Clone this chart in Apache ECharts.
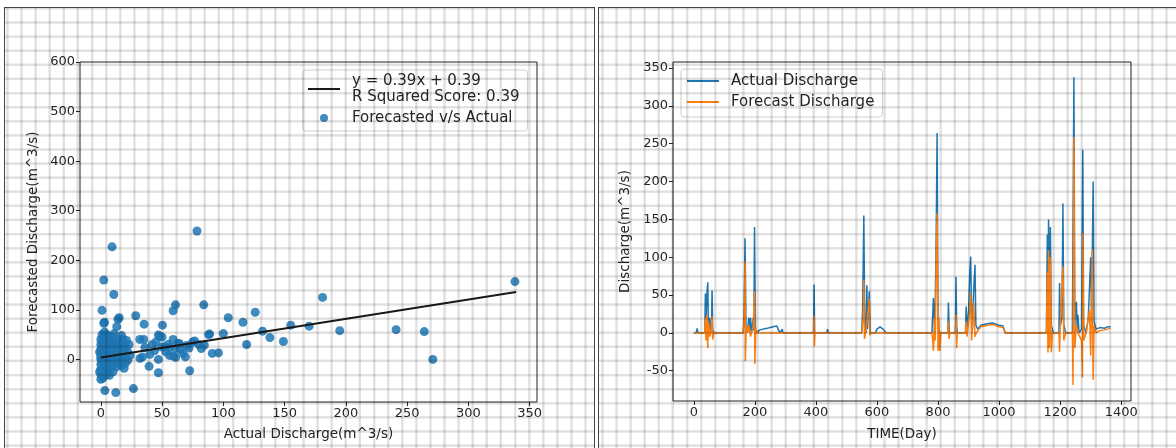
<!DOCTYPE html>
<html>
<head>
<meta charset="utf-8">
<script src="https://cdn.jsdelivr.net/npm/echarts@6/dist/echarts.min.js"></script>
<style>
  html, body { margin: 0; padding: 0; background: #fff; }
  #wrap { position: relative; width: 1176px; height: 448px; overflow: hidden; }
  #chart { position: absolute; left: 0; top: 0; width: 1176px; height: 448px; }
  .panel {
    position: absolute; top: 7px; height: 460px;
    border-top: 1.5px solid #444; border-left: 1.5px solid #444;
    pointer-events: none;
    background-image:
      repeating-linear-gradient(to right, rgba(0,0,0,0.05) 0, rgba(0,0,0,0.12) 1px, rgba(0,0,0,0.12) 2px, rgba(0,0,0,0.04) 3px, transparent 3px, transparent 14.1px),
      repeating-linear-gradient(to bottom, rgba(0,0,0,0.05) 0, rgba(0,0,0,0.12) 1px, rgba(0,0,0,0.12) 2px, rgba(0,0,0,0.04) 3px, transparent 3px, transparent 14.1px);
  }
  #p1 { left: 4px; width: 589px; border-right: 1.5px solid #444; background-position: 1px -1px; }
  #p2 { left: 598px; width: 600px; background-position: 2px -1px; }
</style>
</head>
<body>
<div id="wrap">
  <div id="chart"></div>
  <div class="panel" id="p1"></div>
  <div class="panel" id="p2"></div>
</div>
<script>
// left panel: forecast vs actual scatter
const scatterPoints = [
  [0,-40],[0,-30],[0,-20],[0,-10],[0,0],[0,5],[0,10],[0,20],[0,30],[0,40],
  [1,-25],[1,-5],[1,15],[1,35],[1,50],[2,-35],[2,-15],[2,3],[2,25],[2,45],
  [3,-20],[3,8],[3,30],[3,55],[4,-10],[4,12],[4,40],[5,-30],[5,-2],[5,20],
  [5,50],[6,-15],[6,10],[6,35],[7,0],[7,25],[7,45],[8,-20],[8,15],[8,38],
  [9,-5],[9,28],[10,-25],[10,5],[10,20],[10,45],[11,-10],[11,35],[12,0],[12,15],
  [12,30],[13,-15],[13,10],[14,25],[14,40],[15,-5],[15,18],[16,5],[16,30],[17,-12],
  [18,12],[18,40],[19,-18],[20,25],[20,3],[21,38],[22,15],[23,30],
  [-1,-25],[-1,15],[4,-28],[7,-32],[11,52],[17,48],[20,-8],[22,-2],[24,8],[19,22],
  [9.2,227],[2.4,160],[10.6,131],[1,99],[2.4,73],[3,75],[14,81],[15,84],[13,66],
  [1.5,-38],[3.3,-63],[12.2,-67],[26.6,-59],[28.5,88],[31.8,40],[35,40],[35.3,71],
  [32,2],[34,5],[36,24],[39.4,-14],[40,10],[42,30],[44,18],[45,35],[47,-27],
  [47,49],[47,0],[48,46],[50,45],[50.3,69],[50,25],[52,25],[53,15],[55,30],
  [56,8],[56,24],[59,40],[59,98],[61,110],[59,7],[61,4],[61,22],[63,32],[64,32],
  [65,20],[67,12],[69,5],[70,28],[72.5,-23],[72,23],[75,35],[76.6,37],[78.5,259],
  [80,30],[82,22],[84,110],[84.5,29],[88,50],[88.8,51],[91,12],[96,13],[100,52],
  [104,84],[116,75],[119,30],[126,95],[132,57],[138,44],[149,36],[155,69],[170,67],
  [181,125],[195,58],[241,60],[264,56],[271,0],[338,157]
];
const fitLine = [[0, 4], [339, 136]];
const fitName = 'y = 0.39x + 0.39\nR Squared Score: 0.39';

// right panel: discharge over time, [day, value]
const actualPoints = [
  [0,0],[8,0],[11,6],[14,0],[36,0],[38,52],[40,10],[43,51],[46,67],[48,5],[52,20],[55,0],
  [58,10],[60,56],[62,5],[66,0],[162,0],[165,30],[168,125],[171,10],[176,0],[180,20],
  [183,2],[186,20],[189,0],[195,20],[197,3],[199,140],[202,5],[206,0],[216,4],[240,6],
  [260,8],[272,9],[276,9],[282,0],[288,0],[290,5],[292,0],[392,0],[394,64],[396,0],
  [436,0],[438,5],[441,0],[550,0],[553,30],[557,155],[560,10],[564,0],[567,63],[569,5],
  [575,55],[578,0],[595,0],[600,5],[610,8],[620,5],[630,0],[780,0],[785,46],[788,10],
  [791,40],[794,130],[797,264],[800,10],[806,0],[832,0],[834,40],[837,0],[857,0],[859,74],
  [861,10],[863,0],[890,0],[892,35],[895,5],[900,30],[904,80],[907,101],[910,20],[913,5],
  [917,60],[921,90],[924,10],[930,5],[940,10],[960,12],[980,13],[1000,10],[1013,9],[1020,0],
  [1155,0],[1158,130],[1160,20],[1162,150],[1165,40],[1168,140],[1171,10],[1178,0],[1196,0],
  [1198,66],[1201,10],[1206,20],[1209,171],[1212,10],[1218,0],[1240,0],[1245,338],[1248,10],
  [1253,41],[1256,5],[1258,24],[1262,0],[1270,5],[1274,242],[1277,10],[1285,0],[1292,20],
  [1296,59],[1300,100],[1303,20],[1308,200],[1311,15],[1318,5],[1330,7],[1345,6],[1355,8],[1365,8]
];
const forecastPoints = [
  [0,0],[36,0],[38,20],[40,-10],[43,24],[46,-20],[48,15],[52,-5],[56,0],[60,22],[62,-9],
  [66,0],[162,0],[165,20],[168,95],[169,-37],[172,10],[176,0],[180,10],[186,-5],[195,10],
  [199,55],[200,-41],[203,5],[208,0],[392,0],[394,23],[395,-18],[397,0],[550,0],[555,20],
  [557,70],[559,-8],[563,0],[575,45],[577,-3],[580,0],[780,0],[785,-24],[788,20],[791,-10],
  [794,100],[797,158],[800,-24],[803,20],[806,-24],[809,0],[832,0],[834,15],[836,-8],[839,0],
  [857,0],[859,24],[861,-20],[863,0],[890,0],[892,15],[895,-5],[904,30],[907,53],[910,-10],
  [917,40],[921,-5],[925,0],[940,8],[960,10],[980,11],[1000,8],[1013,7],[1020,0],[1155,0],
  [1158,80],[1160,-26],[1162,109],[1165,-20],[1168,100],[1171,-26],[1175,0],[1196,0],
  [1198,-25],[1201,20],[1209,88],[1212,-10],[1218,0],[1240,0],[1242,-69],[1245,259],
  [1248,-20],[1253,10],[1258,0],[1270,-10],[1273,-59],[1274,132],[1277,-10],[1285,0],
  [1296,30],[1300,-30],[1305,110],[1308,-62],[1311,10],[1318,0],[1330,3],[1345,4],[1365,6]
];

// tick labels
const scatterXTicks = [0, 50, 100, 150, 200, 250, 300, 350];
const scatterYTicks = [0, 100, 200, 300, 400, 500, 600];
const timeXTicks = [0, 200, 400, 600, 800, 1000, 1200, 1400];
const timeYTicks = [-50, 0, 50, 100, 150, 200, 250, 300, 350];

const font = 'DejaVu Sans';
const ink = '#262626';

function axis(gridIndex, min, max, ticks, name, nameGap) {
  return {
    type: 'value', gridIndex, min, max, name,
    nameLocation: 'middle', nameGap,
    nameTextStyle: { fontFamily: font, fontSize: 13.5, color: ink },
    axisLine: { show: false, onZero: false },
    axisTick: { show: true, customValues: ticks, length: 4, lineStyle: { color: '#222' } },
    axisLabel: {
      customValues: ticks, fontFamily: font, fontSize: 13, color: ink, margin: 5,
      formatter: v => String(v)
    },
    splitLine: { show: false }
  };
}

const legendBase = {
  orient: 'vertical',
  itemWidth: 32, itemHeight: 8, itemGap: 5,
  borderColor: '#d0d0d0', borderWidth: 1, borderRadius: 3,
  backgroundColor: 'rgba(255,255,255,0.8)',
  textStyle: { fontFamily: font, fontSize: 15, color: ink, lineHeight: 16, padding: [0, 0, 0, 7] },
  selectedMode: false
};
// line entries: hide the symbol echarts puts in the middle of the line icon
const noDot = { opacity: 0 };

const chart = echarts.init(document.getElementById('chart'));
chart.setOption({
  animation: false,
  grid: [
    { left: 80, top: 62, width: 457, height: 340, show: true, borderColor: '#222', borderWidth: 1 },
    { left: 673, top: 62, width: 458, height: 339, show: true, borderColor: '#222', borderWidth: 1 }
  ],
  xAxis: [
    axis(0, -17, 356, scatterXTicks, 'Actual Discharge(m^3/s)', 25),
    axis(1, -68, 1432, timeXTicks, 'TIME(Day)', 26)
  ],
  yAxis: [
    axis(0, -86, 600, scatterYTicks, 'Forecasted Discharge(m^3/s)', 40),
    axis(1, -90, 358, timeYTicks, 'Discharge(m^3/s)', 41)
  ],
  legend: [
    Object.assign({}, legendBase, {
      left: 303, top: 70, padding: [3, 8, 5, 4],
      data: [{ name: fitName, itemStyle: noDot }, 'Forecasted v/s Actual']
    }),
    Object.assign({}, legendBase, {
      left: 681, top: 69, padding: [4, 8, 7, 5],
      data: [{ name: 'Actual Discharge', itemStyle: noDot }, { name: 'Forecast Discharge', itemStyle: noDot }]
    })
  ],
  series: [
    {
      name: 'Forecasted v/s Actual', type: 'scatter', xAxisIndex: 0, yAxisIndex: 0,
      data: scatterPoints, symbolSize: 9,
      itemStyle: { color: '#1f77b4', opacity: 0.85 }
    },
    {
      name: fitName, type: 'line', xAxisIndex: 0, yAxisIndex: 0,
      data: fitLine, symbol: 'none', z: 5,
      lineStyle: { color: '#1a1a1a', width: 2 }, itemStyle: { color: '#1a1a1a' }
    },
    {
      name: 'Actual Discharge', type: 'line', xAxisIndex: 1, yAxisIndex: 1,
      data: actualPoints, symbol: 'none',
      lineStyle: { color: '#1f77b4', width: 1.5 }, itemStyle: { color: '#1f77b4' }
    },
    {
      name: 'Forecast Discharge', type: 'line', xAxisIndex: 1, yAxisIndex: 1,
      data: forecastPoints, symbol: 'none',
      lineStyle: { color: '#ff7f0e', width: 1.5 }, itemStyle: { color: '#ff7f0e' }
    }
  ]
});
</script>
</body>
</html>
